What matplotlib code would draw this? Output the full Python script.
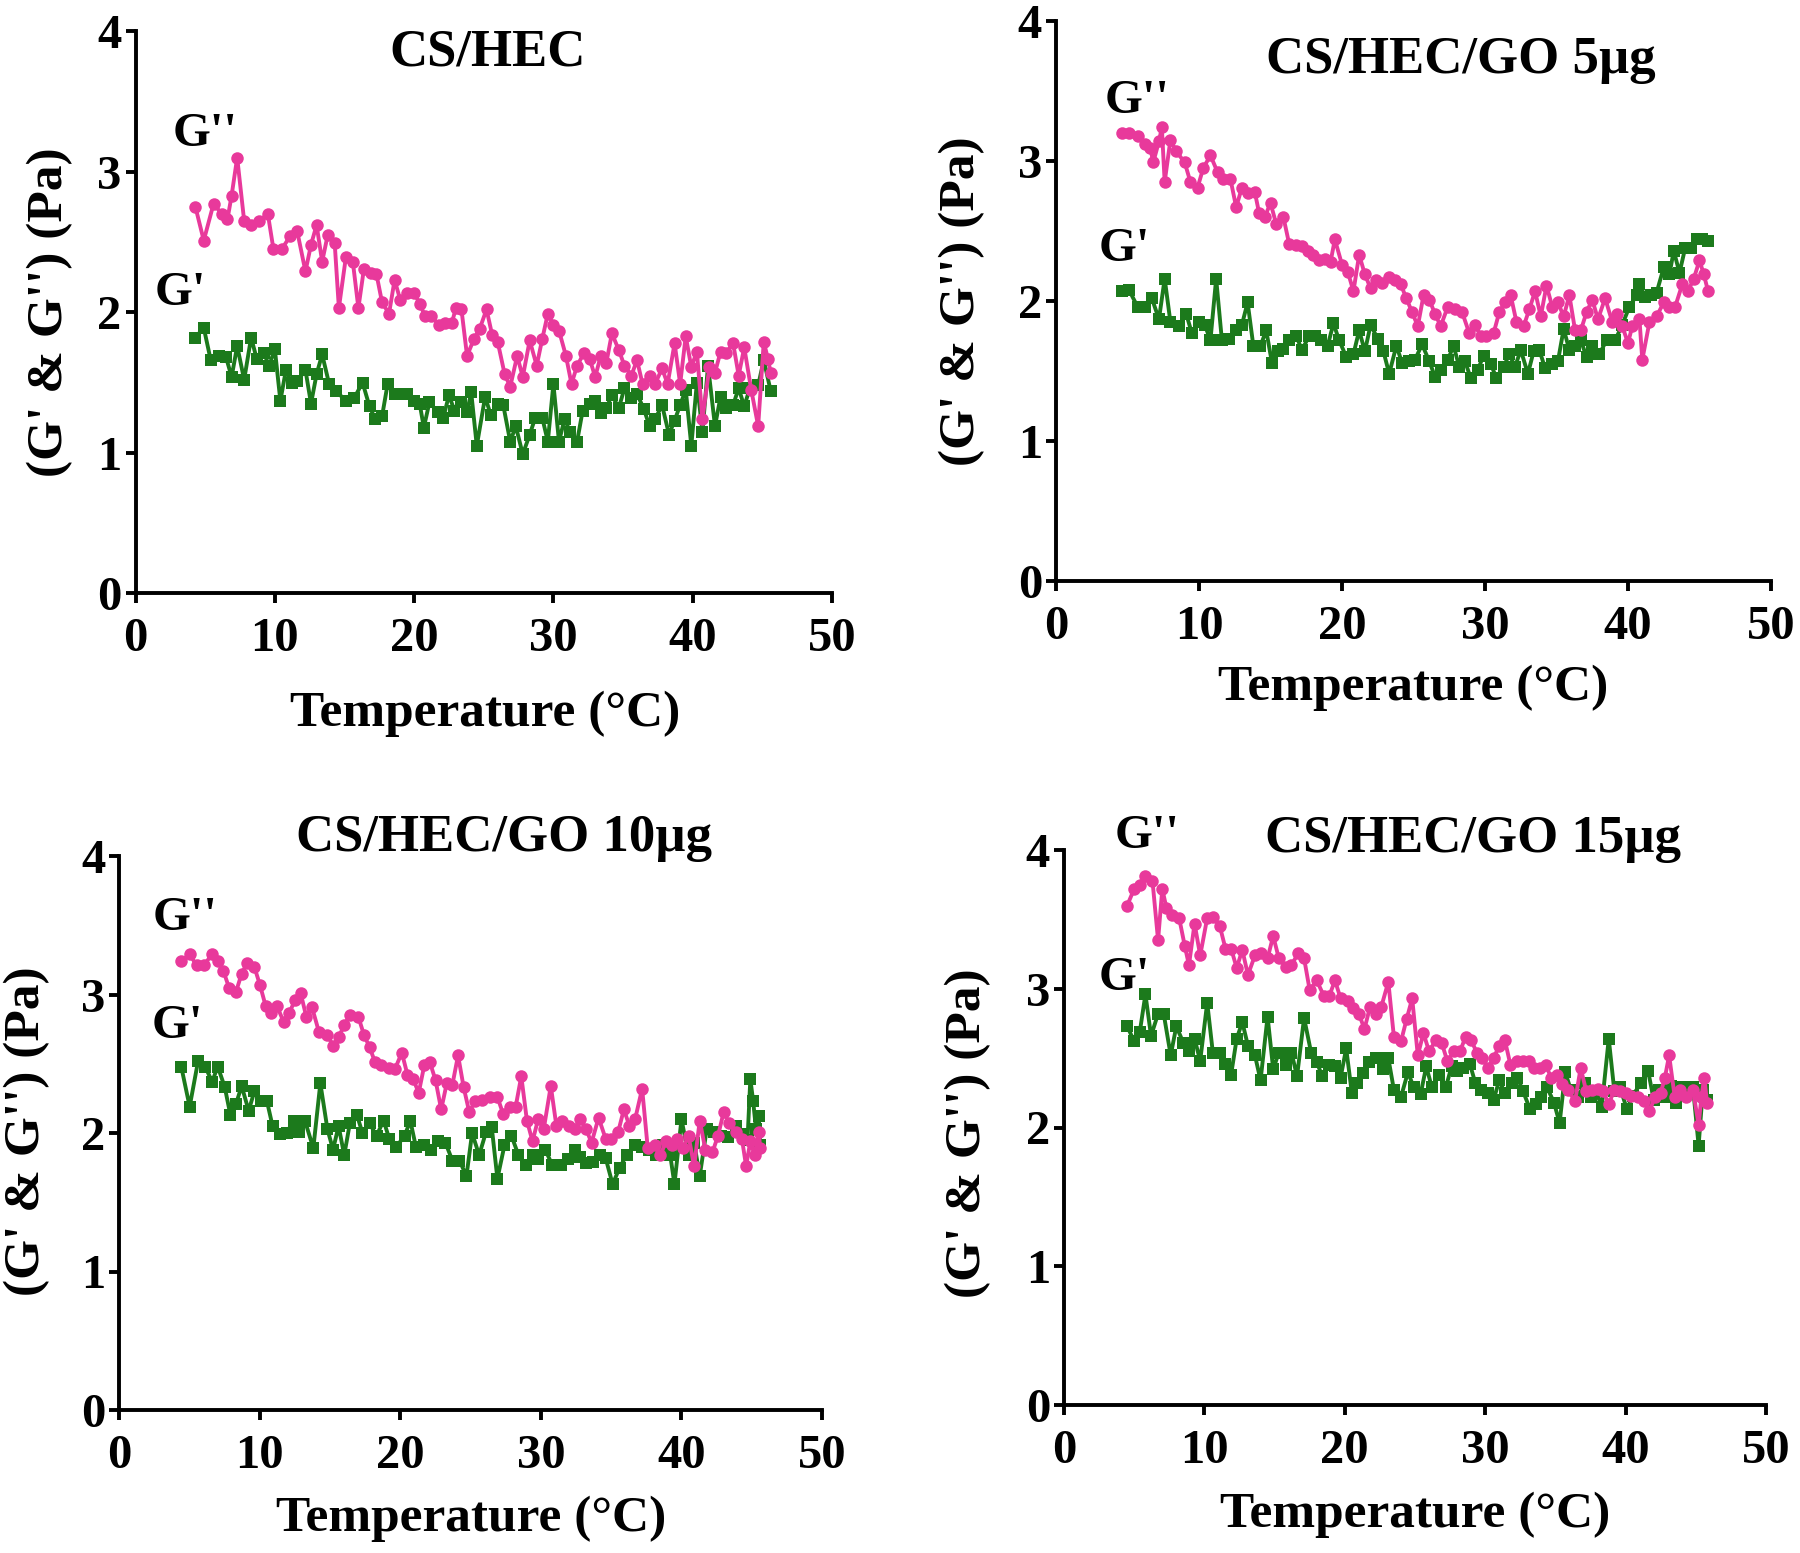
import matplotlib
matplotlib.use("Agg")
import matplotlib.pyplot as plt

# ---------------- data ----------------
# Panel 1: CS/HEC
t1_gpp = [4.3,4.9,5.6,6.2,6.6,6.9,7.3,7.8,8.3,8.9,9.5,9.9,10.5,11.1,11.6,12.2,12.6,13.0,13.4,13.8,14.3,14.6,15.1,15.6,16.0,16.4,16.9,17.3,17.7,18.2,18.6,19.0,19.5,20.0,20.4,20.8,21.2,21.8,22.2,22.7,23.0,23.4,23.8,24.3,24.7,25.2,25.6,26.0,26.5,26.9,27.4,27.8,28.3,28.8,29.2,29.6,30.0,30.4,30.9,31.3,31.7,32.2,32.6,33.0,33.4,33.8,34.2,34.7,35.1,35.6,36.0,36.4,36.9,37.3,37.8,38.2,38.7,39.1,39.5,39.9,40.3,40.7,41.2,41.6,42.0,42.4,42.9,43.3,43.7,44.2,44.7,45.1,45.4,45.6]
v1_gpp = [2.75,2.51,2.77,2.70,2.66,2.83,3.10,2.65,2.62,2.65,2.70,2.45,2.45,2.54,2.58,2.29,2.48,2.62,2.36,2.55,2.49,2.03,2.39,2.36,2.03,2.31,2.28,2.27,2.07,1.99,2.23,2.09,2.14,2.14,2.06,1.97,1.97,1.91,1.92,1.92,2.03,2.02,1.69,1.81,1.88,2.02,1.84,1.79,1.56,1.47,1.69,1.54,1.80,1.62,1.81,1.99,1.91,1.87,1.69,1.49,1.62,1.71,1.67,1.54,1.69,1.64,1.85,1.73,1.62,1.55,1.66,1.49,1.55,1.49,1.60,1.49,1.78,1.49,1.83,1.61,1.72,1.24,1.61,1.57,1.72,1.71,1.78,1.55,1.75,1.45,1.19,1.79,1.67,1.57]
t1_gp = [4.3,4.9,5.4,6.0,6.5,6.9,7.3,7.8,8.3,8.7,9.2,9.6,10.0,10.4,10.8,11.2,11.6,12.2,12.6,13.0,13.4,13.9,14.4,15.1,15.7,16.3,16.8,17.2,17.7,18.1,18.6,19.1,19.5,20.0,20.4,20.7,21.1,21.7,22.1,22.5,22.9,23.4,23.8,24.1,24.5,25.1,25.5,26.0,26.4,26.9,27.3,27.8,28.3,28.7,29.2,29.6,30.0,30.4,30.8,31.2,31.7,32.1,32.6,33.0,33.4,33.8,34.2,34.7,35.1,35.6,36.0,36.5,36.9,37.3,37.8,38.3,38.7,39.1,39.5,39.9,40.3,40.7,41.1,41.6,42.0,42.4,42.9,43.3,43.7,44.1,44.7,45.1,45.6]
v1_gp = [1.82,1.89,1.66,1.69,1.68,1.54,1.76,1.52,1.82,1.67,1.71,1.62,1.74,1.37,1.59,1.50,1.51,1.59,1.35,1.56,1.70,1.49,1.44,1.37,1.39,1.50,1.33,1.24,1.26,1.49,1.42,1.42,1.42,1.37,1.35,1.18,1.36,1.29,1.25,1.41,1.30,1.36,1.29,1.43,1.05,1.40,1.27,1.35,1.34,1.08,1.19,0.99,1.13,1.25,1.25,1.08,1.49,1.08,1.24,1.15,1.08,1.30,1.35,1.37,1.28,1.32,1.41,1.32,1.46,1.39,1.42,1.31,1.19,1.24,1.34,1.13,1.23,1.34,1.45,1.05,1.50,1.15,1.62,1.19,1.40,1.32,1.34,1.46,1.33,1.46,1.48,1.66,1.44]

# Panel 2: CS/HEC/GO 5µg
t2_gpp = [4.6,5.1,5.7,6.2,6.6,6.8,7.2,7.4,7.6,8.0,8.4,9.0,9.4,9.9,10.3,10.8,11.3,11.7,12.2,12.6,13.0,13.4,13.9,14.2,14.6,15.0,15.4,15.9,16.3,16.8,17.2,17.6,18.0,18.4,18.8,19.2,19.5,20.0,20.4,20.8,21.2,21.6,22.0,22.4,22.8,23.3,23.7,24.1,24.5,24.9,25.3,25.7,26.1,26.5,26.9,27.4,27.9,28.4,28.9,29.3,29.7,30.1,30.6,31.0,31.4,31.8,32.2,32.7,33.1,33.5,33.9,34.3,34.7,35.1,35.5,35.9,36.3,36.7,37.1,37.5,37.9,38.4,38.9,39.2,39.6,40.0,40.3,40.8,41.0,41.5,42.0,42.5,42.9,43.3,43.8,44.2,44.6,45.0,45.3,45.6]
v2_gpp = [3.20,3.20,3.18,3.12,3.09,2.99,3.14,3.24,2.85,3.15,3.07,2.99,2.85,2.81,2.95,3.04,2.92,2.87,2.87,2.67,2.81,2.77,2.78,2.63,2.60,2.70,2.55,2.60,2.41,2.40,2.39,2.36,2.33,2.29,2.30,2.28,2.44,2.26,2.21,2.07,2.33,2.19,2.09,2.15,2.13,2.17,2.15,2.12,2.02,1.92,1.82,2.04,2.01,1.91,1.82,1.96,1.94,1.92,1.77,1.83,1.75,1.75,1.77,1.92,1.99,2.04,1.85,1.82,1.94,2.07,1.89,2.11,1.96,1.99,1.89,2.04,1.79,1.79,1.92,2.01,1.87,2.02,1.85,1.91,1.82,1.70,1.82,1.87,1.58,1.85,1.89,1.99,1.96,1.96,2.12,2.07,2.16,2.29,2.19,2.07]
t2_gp = [4.6,5.1,5.7,6.2,6.7,7.2,7.6,8.0,8.6,9.1,9.5,10.0,10.4,10.8,11.2,11.6,12.1,12.6,13.0,13.4,13.8,14.3,14.7,15.1,15.5,15.9,16.3,16.8,17.2,17.7,18.1,18.5,19.0,19.4,19.8,20.3,20.8,21.2,21.6,22.0,22.5,22.9,23.3,23.8,24.2,24.7,25.1,25.6,26.1,26.5,26.9,27.4,27.8,28.2,28.6,29.0,29.5,29.9,30.4,30.8,31.3,31.7,32.1,32.5,33.0,33.4,33.8,34.2,34.7,35.1,35.5,35.9,36.3,36.7,37.1,37.5,38.0,38.5,39.1,39.6,40.1,40.6,40.8,41.2,41.6,42.0,42.5,42.9,43.2,43.6,44.0,44.4,44.8,45.2,45.6]
v2_gp = [2.07,2.08,1.96,1.96,2.02,1.87,2.16,1.85,1.82,1.91,1.77,1.85,1.83,1.72,2.16,1.72,1.73,1.79,1.83,1.99,1.68,1.68,1.79,1.56,1.64,1.66,1.72,1.75,1.65,1.75,1.75,1.72,1.68,1.84,1.72,1.60,1.62,1.79,1.64,1.83,1.73,1.64,1.48,1.68,1.56,1.57,1.58,1.69,1.57,1.46,1.51,1.58,1.68,1.53,1.57,1.45,1.51,1.61,1.55,1.45,1.53,1.62,1.53,1.65,1.48,1.64,1.65,1.52,1.55,1.57,1.80,1.65,1.68,1.72,1.60,1.68,1.62,1.72,1.72,1.83,1.96,2.04,2.12,2.03,2.04,2.06,2.24,2.19,2.36,2.20,2.38,2.38,2.44,2.44,2.43]

# Panel 3: CS/HEC/GO 10µg
t3_gpp = [4.4,5.0,5.5,6.0,6.6,7.0,7.4,7.8,8.3,8.7,9.1,9.6,10.0,10.4,10.8,11.2,11.7,12.1,12.5,12.9,13.3,13.7,14.2,14.8,15.2,15.6,16.0,16.4,17.0,17.4,17.8,18.2,18.6,19.2,19.6,20.1,20.5,20.9,21.3,21.7,22.1,22.5,22.9,23.3,23.7,24.1,24.5,24.9,25.3,25.8,26.4,26.9,27.3,27.8,28.2,28.6,29.0,29.4,29.8,30.2,30.7,31.1,31.5,32.0,32.4,32.8,33.2,33.6,34.1,34.6,35.0,35.5,35.9,36.3,36.7,37.2,37.6,38.1,38.5,38.9,39.3,39.7,40.1,40.5,40.9,41.3,41.7,42.2,42.6,43.0,43.4,43.9,44.3,44.6,44.9,45.2,45.5,45.6]
v3_gpp = [3.24,3.29,3.21,3.21,3.29,3.24,3.17,3.05,3.02,3.15,3.23,3.20,3.07,2.92,2.87,2.92,2.80,2.87,2.96,3.01,2.84,2.91,2.73,2.71,2.63,2.69,2.78,2.85,2.84,2.71,2.62,2.51,2.49,2.47,2.46,2.58,2.42,2.39,2.29,2.49,2.51,2.38,2.17,2.36,2.35,2.56,2.33,2.15,2.23,2.24,2.26,2.26,2.14,2.19,2.19,2.41,2.09,1.94,2.10,2.03,2.34,2.05,2.09,2.05,2.03,2.10,2.03,1.93,2.11,1.96,1.96,2.01,2.17,2.05,2.10,2.32,1.89,1.91,1.84,1.94,1.91,1.96,1.89,1.98,1.76,2.09,1.88,1.86,1.98,2.15,2.07,2.01,1.96,1.76,1.94,1.84,2.01,1.89]
t3_gp = [4.4,5.0,5.6,6.1,6.6,7.0,7.5,7.9,8.3,8.7,9.2,9.6,10.1,10.5,10.9,11.4,11.9,12.4,12.8,13.2,13.8,14.3,14.8,15.2,15.6,16.0,16.4,16.9,17.3,17.8,18.3,18.8,19.2,19.7,20.3,20.7,21.1,21.7,22.2,22.7,23.2,23.7,24.2,24.7,25.1,25.6,26.1,26.5,26.9,27.4,27.9,28.4,28.9,29.4,29.8,30.3,30.8,31.4,31.9,32.4,32.8,33.2,33.7,34.2,34.6,35.1,35.6,36.1,36.7,37.2,37.7,38.2,38.7,39.2,39.5,40.0,40.5,40.9,41.3,41.8,42.3,42.8,43.3,43.9,44.4,44.7,44.9,45.1,45.3,45.5,45.6]
v3_gp = [2.48,2.19,2.52,2.48,2.37,2.48,2.33,2.13,2.21,2.34,2.16,2.30,2.23,2.23,2.05,1.99,2.00,2.09,2.01,2.09,1.89,2.36,2.03,1.88,2.05,1.84,2.07,2.13,2.00,2.07,1.98,2.09,1.96,1.90,1.98,2.09,1.90,1.91,1.88,1.94,1.93,1.80,1.80,1.69,2.00,1.84,2.01,2.04,1.67,1.91,1.98,1.84,1.77,1.84,1.81,1.88,1.77,1.77,1.81,1.88,1.83,1.78,1.79,1.84,1.82,1.63,1.75,1.84,1.91,1.90,1.88,1.84,1.91,1.84,1.63,2.10,1.84,1.93,1.69,2.03,2.01,1.98,1.97,2.05,1.99,1.95,2.39,2.23,2.03,2.12,1.91]

# Panel 4: CS/HEC/GO 15µg
t4_gpp = [4.5,5.0,5.4,5.8,6.3,6.7,7.0,7.3,7.7,8.2,8.6,8.9,9.3,9.7,10.2,10.6,11.1,11.5,11.9,12.3,12.7,13.1,13.6,14.0,14.5,14.9,15.3,15.8,16.2,16.7,17.1,17.5,18.0,18.5,18.9,19.3,19.7,20.2,20.6,21.0,21.4,21.8,22.2,22.6,23.1,23.5,24.0,24.4,24.8,25.2,25.6,26.0,26.5,26.9,27.3,27.8,28.2,28.6,29.0,29.4,29.8,30.2,30.6,31.0,31.4,31.8,32.3,32.7,33.1,33.5,33.9,34.3,34.7,35.1,35.5,35.9,36.4,36.8,37.2,37.6,38.0,38.4,38.8,39.2,39.6,40.0,40.4,40.9,41.3,41.7,42.1,42.5,42.8,43.1,43.5,43.9,44.3,44.8,45.2,45.4,45.6,45.8]
v4_gpp = [3.60,3.72,3.75,3.81,3.78,3.35,3.72,3.58,3.53,3.51,3.31,3.17,3.47,3.24,3.51,3.52,3.45,3.29,3.29,3.15,3.28,3.10,3.24,3.26,3.22,3.38,3.22,3.16,3.17,3.26,3.22,2.99,3.06,2.95,2.95,3.06,2.93,2.91,2.86,2.82,2.71,2.87,2.82,2.87,3.05,2.65,2.62,2.78,2.93,2.52,2.68,2.55,2.63,2.61,2.48,2.55,2.55,2.65,2.63,2.54,2.50,2.43,2.50,2.59,2.63,2.45,2.48,2.48,2.48,2.43,2.43,2.45,2.36,2.38,2.31,2.27,2.19,2.43,2.26,2.27,2.28,2.26,2.17,2.27,2.26,2.25,2.23,2.22,2.19,2.12,2.22,2.25,2.36,2.52,2.22,2.27,2.22,2.27,2.02,2.22,2.36,2.18]
t4_gp = [4.5,5.0,5.4,5.8,6.2,6.7,7.1,7.6,8.0,8.5,8.9,9.3,9.7,10.2,10.6,11.1,11.5,11.9,12.3,12.7,13.1,13.6,14.0,14.5,14.9,15.3,15.8,16.2,16.6,17.1,17.6,18.0,18.4,18.9,19.3,19.7,20.1,20.5,20.9,21.3,21.7,22.2,22.7,23.1,23.5,24.0,24.5,24.9,25.4,25.8,26.2,26.7,27.2,27.6,28.0,28.4,28.9,29.3,29.7,30.2,30.6,31.0,31.4,31.9,32.3,32.7,33.2,33.6,34.0,34.4,34.9,35.3,35.7,36.1,36.6,37.1,37.5,37.9,38.3,38.8,39.2,39.6,40.1,40.5,41.1,41.6,42.0,42.4,42.8,43.2,43.6,44.0,44.4,44.8,45.2,45.5,45.8]
v4_gp = [2.73,2.62,2.69,2.96,2.66,2.82,2.82,2.52,2.73,2.61,2.55,2.64,2.48,2.90,2.54,2.54,2.46,2.38,2.64,2.76,2.59,2.52,2.34,2.80,2.42,2.54,2.45,2.54,2.37,2.79,2.54,2.47,2.37,2.45,2.44,2.36,2.57,2.25,2.32,2.39,2.47,2.50,2.42,2.50,2.27,2.22,2.40,2.29,2.24,2.44,2.29,2.38,2.29,2.44,2.41,2.43,2.46,2.32,2.27,2.25,2.20,2.34,2.25,2.32,2.36,2.26,2.13,2.17,2.22,2.29,2.18,2.03,2.40,2.27,2.22,2.32,2.22,2.26,2.15,2.64,2.26,2.29,2.13,2.23,2.32,2.41,2.20,2.27,2.22,2.30,2.18,2.29,2.27,2.29,1.87,2.27,2.20]

titles = ["CS/HEC", "CS/HEC/GO 5\u00b5g", "CS/HEC/GO 10\u00b5g", "CS/HEC/GO 15\u00b5g"]
xticks = [0, 10, 20, 30, 40, 50]
yticks = [0, 1, 2, 3, 4]

# ---------------- layout / style ----------------
W, H = 1800, 1553
FONT = "Liberation Serif"
PINK = "#E8399B"
GREEN = "#1C7A1C"

# axes rectangles in pixels: (x0, x50, y0, y4)
rects = [(135.5, 832, 593.5, 31), (1056, 1771, 581, 21),
         (119.4, 822, 1410, 856), (1064, 1766, 1405, 850)]
# title positions (data coords), G'' / G' label positions (data coords)
title_pos = [(25.3, 3.85), (28.3, 3.72), (27.4, 4.13), (29.1, 4.08)]
gpp_pos = [(5.0, 3.27), (5.7, 3.43), (4.7, 3.55), (5.9, 4.10)]
gp_pos = [(3.2, 2.14), (4.8, 2.37), (4.1, 2.77), (4.3, 3.08)]
xlab_pos = [(0.502, -0.214), (0.50, -0.19), (0.50, -0.197), (0.50, -0.198)]
ylab_pos = [(-0.122, 0.50), (-0.131, 0.50), (-0.131, 0.504), (-0.136, 0.49)]

series = [(t1_gpp, v1_gpp, t1_gp, v1_gp), (t2_gpp, v2_gpp, t2_gp, v2_gp),
          (t3_gpp, v3_gpp, t3_gp, v3_gp), (t4_gpp, v4_gpp, t4_gp, v4_gp)]

fig = plt.figure(figsize=(W / 100, H / 100), dpi=100)
fig.patch.set_facecolor("white")

for i, (x0, x50, y0, y4) in enumerate(rects):
    ax = fig.add_axes([x0 / W, 1 - y0 / H, (x50 - x0) / W, (y0 - y4) / H])
    tg, vg, tp, vp = series[i]
    ax.plot(tp, vp, color=GREEN, marker="s", markersize=8.5, linewidth=2.8,
            markeredgewidth=0, zorder=3)
    ax.plot(tg, vg, color=PINK, marker="o", markersize=9.0, linewidth=2.8,
            markeredgewidth=0, zorder=4)
    ax.set_xlim(0, 50)
    ax.set_ylim(0, 4)
    ax.set_xticks(xticks)
    ax.set_yticks(yticks)
    for s in ["top", "right"]:
        ax.spines[s].set_visible(False)
    for s in ["left", "bottom"]:
        ax.spines[s].set_linewidth(2.8)
    ax.tick_params(axis="both", direction="out", length=7, width=2.8,
                   labelsize=35)
    ax.tick_params(axis="x", pad=10)
    ax.tick_params(axis="y", pad=3)
    for lab in ax.get_xticklabels() + ax.get_yticklabels():
        lab.set_fontfamily(FONT)
        lab.set_fontweight("bold")
    ax.text(*title_pos[i], titles[i], ha="center", va="center", fontsize=38,
            fontweight="bold", family=FONT)
    ax.text(*gpp_pos[i], "G''", ha="center", va="center", fontsize=35,
            fontweight="bold", family=FONT)
    ax.text(*gp_pos[i], "G'", ha="center", va="center", fontsize=35,
            fontweight="bold", family=FONT)
    ax.text(*xlab_pos[i], "Temperature (\u00b0C)", transform=ax.transAxes,
            ha="center", va="center", fontsize=37, fontweight="bold", family=FONT)
    ax.text(*ylab_pos[i], "(G' & G'') (Pa)", transform=ax.transAxes,
            ha="center", va="center", rotation=90, fontsize=37,
            fontweight="bold", family=FONT)

fig.savefig("out.png", dpi=100, facecolor="white")
